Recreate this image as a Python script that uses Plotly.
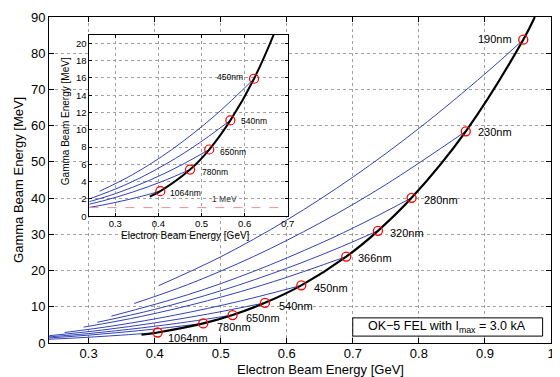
import plotly.graph_objects as go

# ---------------- data ----------------
wavelengths = ["1064nm", "780nm", "650nm", "540nm", "450nm", "366nm", "320nm", "280nm", "230nm", "190nm"]
circle_e = [0.4045, 0.4735, 0.518, 0.567, 0.622, 0.69, 0.738, 0.789, 0.871, 0.958]
circle_g = [2.90, 5.40, 7.72, 11.09, 15.91, 23.85, 30.97, 40.08, 58.45, 83.73]

black_e = [0.38, 0.4045, 0.4735, 0.518, 0.567, 0.622, 0.69, 0.738, 0.789, 0.871, 0.958, 0.9755]
black_g = [2.27, 2.90, 5.40, 7.72, 11.09, 15.91, 23.85, 30.97, 40.08, 58.45, 83.73, 90.0]

line_1064_e = [0.17, 0.23, 0.29, 0.35, 0.4045]
line_1064_g = [0.51, 0.94, 1.49, 2.17, 2.90]
line_780_e = [0.20, 0.27, 0.34, 0.41, 0.4735]
line_780_g = [0.97, 1.76, 2.79, 4.05, 5.40]
line_650_e = [0.22, 0.30, 0.38, 0.45, 0.518]
line_650_g = [1.41, 2.61, 4.17, 5.84, 7.72]
line_540_e = [0.2405, 0.32, 0.40, 0.48, 0.567]
line_540_g = [2.02, 3.56, 5.55, 7.97, 11.09]
line_450_e = [0.2637, 0.34, 0.43, 0.53, 0.622]
line_450_g = [2.90, 4.81, 7.67, 11.60, 15.91]
line_366_e = [0.2924, 0.38, 0.48, 0.58, 0.69]
line_366_g = [4.37, 7.35, 11.67, 16.95, 23.85]
line_320_e = [0.313, 0.40, 0.50, 0.60, 0.67, 0.738]
line_320_g = [5.71, 9.28, 14.41, 20.64, 25.63, 30.97]
line_280_e = [0.3345, 0.45, 0.55, 0.65, 0.72, 0.789]
line_280_g = [7.42, 13.33, 19.78, 27.45, 33.52, 40.08]
line_230_e = [0.369, 0.45, 0.55, 0.65, 0.75, 0.871]
line_230_g = [10.91, 16.12, 23.90, 33.11, 43.74, 58.45]
line_190_e = [0.406, 0.5, 0.6, 0.7, 0.8, 0.9, 0.958]
line_190_g = [15.83, 23.80, 33.95, 45.78, 59.24, 74.29, 83.73]

main_x_ticks = [0.3, 0.4, 0.5, 0.6, 0.7, 0.8, 0.9, 1.0]
main_x_ticktext = ["0.3", "0.4", "0.5", "0.6", "0.7", "0.8", "0.9", "1"]
main_y_ticks = [0, 10, 20, 30, 40, 50, 60, 70, 80, 90]
inset_x_ticks = [0.3, 0.4, 0.5, 0.6, 0.7]
inset_y_ticks = [0, 2, 4, 6, 8, 10, 12, 14, 16, 18, 20]
inset_labels = ["1064nm", "780nm", "650nm", "540nm", "450nm"]
one_mev = 1.0

blue_lines = [
    (line_1064_e, line_1064_g), (line_780_e, line_780_g), (line_650_e, line_650_g),
    (line_540_e, line_540_g), (line_450_e, line_450_g), (line_366_e, line_366_g),
    (line_320_e, line_320_g), (line_280_e, line_280_g), (line_230_e, line_230_g),
    (line_190_e, line_190_g),
]

FONT = "Liberation Sans, Arial, Helvetica, sans-serif"
BLUE = "#3242b4"
GRID = "#a0a0a0"

# the page shows the figure offset by the 8px body margin
OFF_X, OFF_Y = 8, 8
W, H = 560 - OFF_X, 377 - OFF_Y
L, T = 49 - OFF_X, 12 - OFF_Y          # plot area left/top on page: 49, 12
PLOT_R, PLOT_B = 558 - OFF_X, 343 - OFF_Y
R, B = W - PLOT_R, H - PLOT_B
PW, PH = PLOT_R - L, PLOT_B - T


def px_x(p):  # page px -> paper
    return (p - OFF_X - L) / PW


def px_y(p):
    return (PLOT_B - (p - OFF_Y)) / PH


fig = go.Figure()

# ---------------- main plot ----------------
for ex, gy in blue_lines:
    fig.add_trace(go.Scatter(x=ex, y=gy, mode="lines", line=dict(color=BLUE, width=1, shape="spline"),
                             xaxis="x", yaxis="y", showlegend=False, hoverinfo="skip"))
fig.add_trace(go.Scatter(x=black_e, y=black_g, mode="lines", line=dict(color="black", width=2.2, shape="spline"),
                         xaxis="x", yaxis="y", showlegend=False))
fig.add_trace(go.Scatter(x=circle_e, y=circle_g, mode="markers",
                         marker=dict(symbol="circle-open", size=9, color="red", line=dict(width=1.3, color="red")),
                         xaxis="x", yaxis="y", showlegend=False))

# ---------------- inset ----------------
for ex, gy in blue_lines[:5]:
    fig.add_trace(go.Scatter(x=ex, y=gy, mode="lines", line=dict(color=BLUE, width=1, shape="spline"),
                             xaxis="x2", yaxis="y2", showlegend=False, hoverinfo="skip"))
fig.add_trace(go.Scatter(x=[0.24, 0.7], y=[one_mev, one_mev], mode="lines",
                         line=dict(color="#f09090", width=1, dash="dash"),
                         xaxis="x2", yaxis="y2", showlegend=False))
fig.add_trace(go.Scatter(x=black_e, y=black_g, mode="lines", line=dict(color="black", width=2, shape="spline"),
                         xaxis="x2", yaxis="y2", showlegend=False))
fig.add_trace(go.Scatter(x=circle_e[:5], y=circle_g[:5], mode="markers",
                         marker=dict(symbol="circle-open", size=9, color="red", line=dict(width=1.2, color="red")),
                         xaxis="x2", yaxis="y2", showlegend=False))

annotations = []
main_offsets = [(8, -5), (12, -4), (11, -3), (12, -3), (11, -3), (10, -1), (10, -2), (10, -2), (10, -1), (-9, 1)]
for name, ex, gy, (dx, dy) in zip(wavelengths, circle_e, circle_g, main_offsets):
    annotations.append(dict(x=ex, y=gy, xref="x", yref="y", text=name, showarrow=False,
                            xanchor="left" if dx > 0 else "right", yanchor="middle",
                            xshift=dx, yshift=dy, font=dict(family=FONT, size=11, color="black")))
inset_offsets = [(8, -2), (10, -2), (9, -2), (9, -1), (-9, 2)]
for name, ex, gy, (dx, dy) in zip(inset_labels, circle_e, circle_g, inset_offsets):
    annotations.append(dict(x=ex, y=gy, xref="x2", yref="y2", text=name, showarrow=False,
                            xanchor="left" if dx > 0 else "right", yanchor="middle",
                            xshift=dx, yshift=dy, font=dict(family=FONT, size=8.5, color="black")))
annotations.append(dict(x=0.553, y=1.94, xref="x2", yref="y2", text="1 MeV", showarrow=False,
                        xanchor="center", yanchor="middle",
                        font=dict(family=FONT, size=8.5, color="#333")))


def paper_text(px, py, text, size, angle=0):
    return dict(x=px_x(px), y=px_y(py), xref="paper", yref="paper", text=text, showarrow=False,
                xanchor="center", yanchor="middle", textangle=angle,
                font=dict(family=FONT, size=size, color="black"))


annotations.append(paper_text(324, 370, "Electron Beam Energy [GeV]", 13))
annotations.append(paper_text(17.5, 177.5, "Gamma Beam Energy [MeV]", 13, -90))
annotations.append(paper_text(187, 233.5, "Electron Beam Energy [GeV]", 10))
annotations.append(paper_text(66.5, 117.5, "Gamma Beam Energy [MeV]", 10, -90))
annotations.append(paper_text(453, 326.5, "OK\u22125 FEL with I<sub>max</sub> = 3.0 kA", 12.5))

shapes = [
    dict(type="rect", xref="x2", yref="y2", x0=0.24, x1=0.7, y0=0, y1=21,
         fillcolor="white", line=dict(width=0), layer="below"),
    dict(type="rect", xref="paper", yref="paper", x0=px_x(357), x1=px_x(549.5), y0=px_y(336), y1=px_y(317.5),
         fillcolor="white", line=dict(color="black", width=1), layer="above"),
]

axis_common = dict(showline=True, linecolor="black", linewidth=1, mirror="ticks", ticks="inside",
                   tickcolor="black", showgrid=True, gridcolor=GRID, griddash="dot", gridwidth=1,
                   zeroline=False, ticklabeloverflow="allow")

fig.update_layout(
    width=W, height=H,
    margin=dict(l=L, r=R, t=T, b=B, pad=0),
    paper_bgcolor="white", plot_bgcolor="white",
    font=dict(family=FONT, color="black"),
    showlegend=False,
    xaxis=dict(range=[0.24, 1.0], tickvals=main_x_ticks, ticktext=main_x_ticktext, ticklen=5,
               tickfont=dict(size=13), ticklabelstandoff=-2, domain=[0, 1], anchor="y", **axis_common),
    yaxis=dict(range=[0, 90], tickvals=main_y_ticks, ticklen=5, tickfont=dict(size=13),
               domain=[0, 1], anchor="x", **axis_common),
    xaxis2=dict(range=[0.24, 0.7], tickvals=inset_x_ticks, ticklen=3, tickfont=dict(size=9.5),
                ticklabelstandoff=-2,
                domain=[px_x(90), px_x(291)], anchor="y2", **axis_common),
    yaxis2=dict(range=[0, 21], tickvals=inset_y_ticks, ticklen=3, tickfont=dict(size=9.5),
                domain=[px_y(214.3), px_y(30)], anchor="x2", **axis_common),
    annotations=annotations,
    shapes=shapes,
)

fig.write_html("out.html")
